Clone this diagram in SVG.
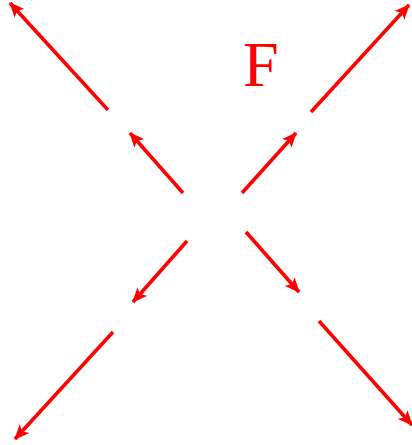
<svg xmlns="http://www.w3.org/2000/svg" width="412" height="445" viewBox="0 0 412 445">
<defs>
<style>
.c line{stroke:#ff0000;stroke-width:3.6;fill:none;marker-end:url(#ah)}
.lbl{font-family:"Liberation Serif","Times New Roman",serif;font-size:64px;fill:#ff0000}
</style>
<marker id="ah" markerUnits="userSpaceOnUse" viewBox="0 0 15 13" markerWidth="15" markerHeight="13" refX="14" refY="6.5" orient="auto">
<path d="M0,0 L15,6.5 L0,13 L3.5,6.5 z" fill="#ff0000"/>
</marker>
</defs>
<rect width="412" height="445" fill="#ffffff"/>
<g id="connectors" class="c">
<line x1="108" y1="110" x2="10" y2="3"/>
<line x1="311" y1="112" x2="409" y2="5"/>
<line x1="183" y1="193" x2="130" y2="133"/>
<line x1="242" y1="193" x2="296" y2="133"/>
<line x1="187" y1="241" x2="133" y2="302"/>
<line x1="246" y1="232" x2="299" y2="292"/>
<line x1="113" y1="332" x2="15" y2="439"/>
<line x1="319" y1="321" x2="412" y2="425"/>
</g>
<g id="label-F">
<text class="lbl" x="243" y="86">F</text>
</g>
</svg>
